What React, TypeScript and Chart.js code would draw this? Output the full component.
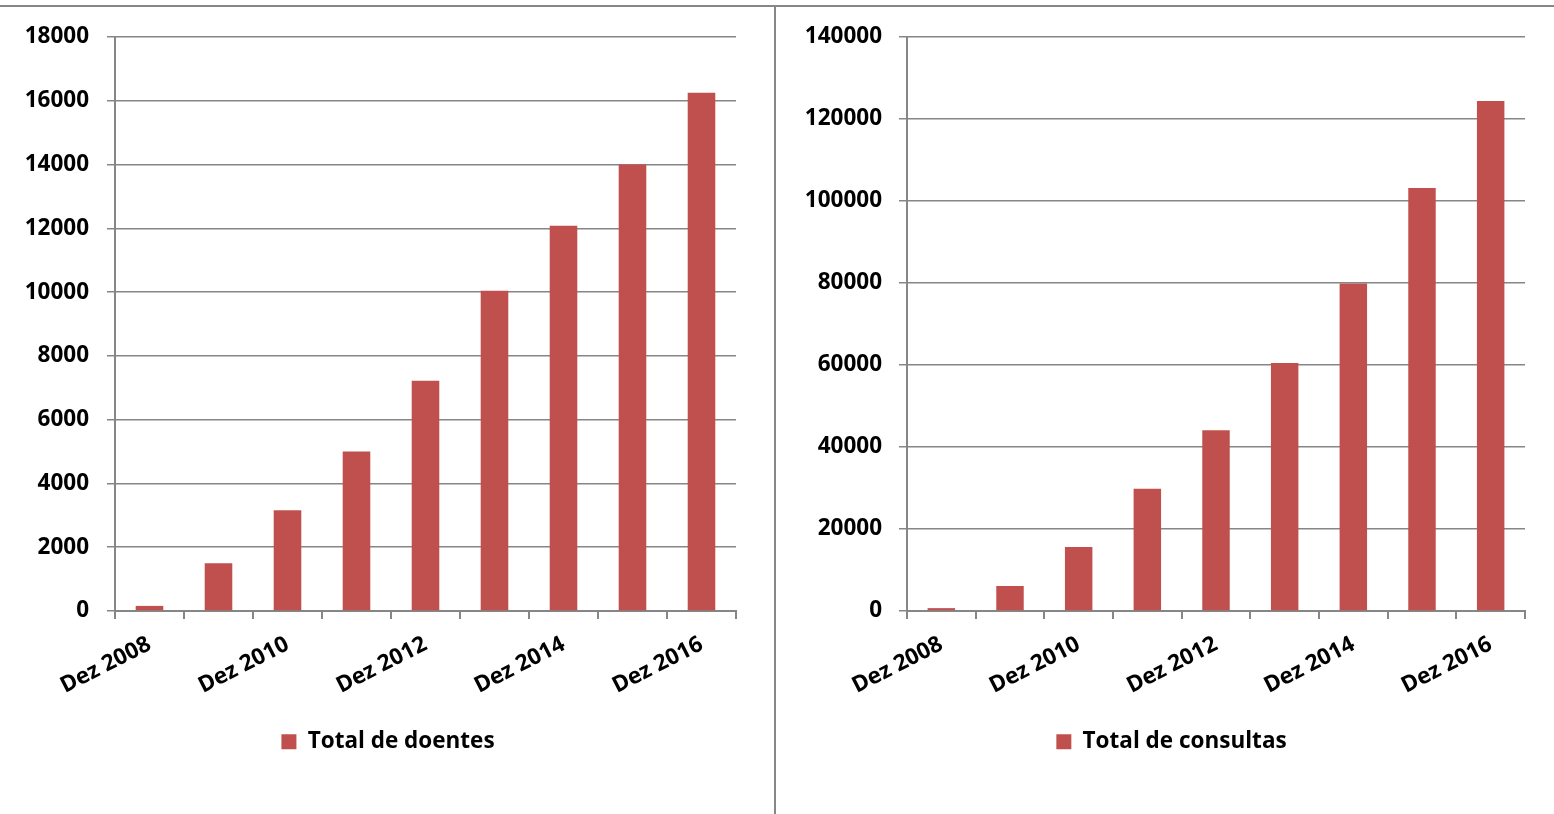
import React, { useEffect, useRef } from "react";
import { Chart, registerables } from "chart.js";

Chart.register(...registerables);

const categories = [
  "Dez 2008", "Dez 2009", "Dez 2010", "Dez 2011", "Dez 2012",
  "Dez 2013", "Dez 2014", "Dez 2015", "Dez 2016",
];
const doentes = [160, 1500, 3160, 5000, 7220, 10040, 12080, 14000, 16250];
const consultas = [700, 6100, 15600, 29800, 44100, 60500, 79900, 103200, 124400];
const doentesTicks = { max: 18000, step: 2000 };
const consultasTicks = { max: 140000, step: 20000 };
const labelDoentes = "Total de doentes";
const labelConsultas = "Total de consultas";

const GRID = "#868686";
const BAR = "#C0504D";
const FONT = { family: "'Open Sans'", weight: "bold" as const, size: 22.5 };

function makeConfig(
  label: string,
  values: number[],
  ticks: { max: number; step: number },
  yWidth: number,
  padRight: number,
  yPad: number,
  legendShift: number
): any {
  return {
    type: "bar",
    data: {
      labels: categories,
      datasets: [
        {
          label,
          data: values,
          backgroundColor: BAR,
          borderWidth: 0,
          categoryPercentage: 1,
          barPercentage: 0.4,
        },
      ],
    },
    plugins: [
      {
        id: "legendShift",
        afterLayout(chart: any) {
          const l = chart.legend;
          if (l) {
            l.left += legendShift;
            l.right += legendShift;
          }
        },
      },
    ],
    options: {
      animation: false,
      responsive: true,
      maintainAspectRatio: false,
      layout: { padding: { left: 0, right: padRight, top: 37, bottom: 51 } },
      plugins: {
        tooltip: { enabled: false },
        legend: {
          position: "bottom",
          labels: {
            font: FONT,
            color: "#000",
            boxWidth: 15,
            boxHeight: 15,
            padding: 10,
          },
        },
      },
      scales: {
        x: {
          offset: true,
          grid: {
            display: true,
            offset: true,
            drawOnChartArea: false,
            drawTicks: true,
            tickLength: 8,
            color: GRID,
            lineWidth: 2,
          },
          border: { display: true, color: GRID, width: 2 },
          ticks: {
            autoSkip: false,
            minRotation: 27,
            maxRotation: 27,
            padding: 12,
            color: "#000",
            font: FONT,
            callback: function (this: any, _v: any, i: number) {
              return i % 2 === 0 ? categories[i] : "";
            },
          },
          afterFit: (scale: any) => {
            scale.height = 109.5;
          },
        },
        y: {
          min: 0,
          max: ticks.max,
          grid: {
            color: GRID,
            lineWidth: 1.5,
            tickLength: 8,
            drawTicks: true,
          },
          border: { display: true, color: GRID, width: 2 },
          ticks: {
            stepSize: ticks.step,
            padding: yPad,
            color: "#000",
            font: FONT,
            callback: (v: any) => String(v),
          },
          afterFit: (scale: any) => {
            scale.width = yWidth;
          },
        },
      },
    },
  };
}

function BarChart(props: { config: any; left: number; width: number }) {
  const ref = useRef<HTMLCanvasElement | null>(null);
  useEffect(() => {
    if (!ref.current) return;
    const chart = new Chart(ref.current, props.config);
    return () => chart.destroy();
  }, []);
  return (
    <div
      style={{
        position: "absolute",
        left: props.left,
        top: 0,
        width: props.width,
        height: 814,
      }}
    >
      <canvas ref={ref} />
    </div>
  );
}

export default function App() {
  const leftCfg = makeConfig(labelDoentes, doentes, doentesTicks, 115, 38, 18, 20);
  const rightCfg = makeConfig(labelConsultas, consultas, consultasTicks, 131, 29, 17, 21);
  return (
    <div
      style={{
        position: "fixed",
        left: 0,
        top: 0,
        width: 1554,
        height: 814,
        background: "#fff",
        overflow: "hidden",
      }}
    >
      <BarChart config={leftCfg} left={0} width={774} />
      <BarChart config={rightCfg} left={776} width={778} />
      <div
        style={{ position: "absolute", left: 0, top: 5, width: 1554, height: 2, background: "#878787" }}
      />
      <div
        style={{ position: "absolute", left: 774, top: 5, width: 2, height: 809, background: "#878787" }}
      />
    </div>
  );
}
